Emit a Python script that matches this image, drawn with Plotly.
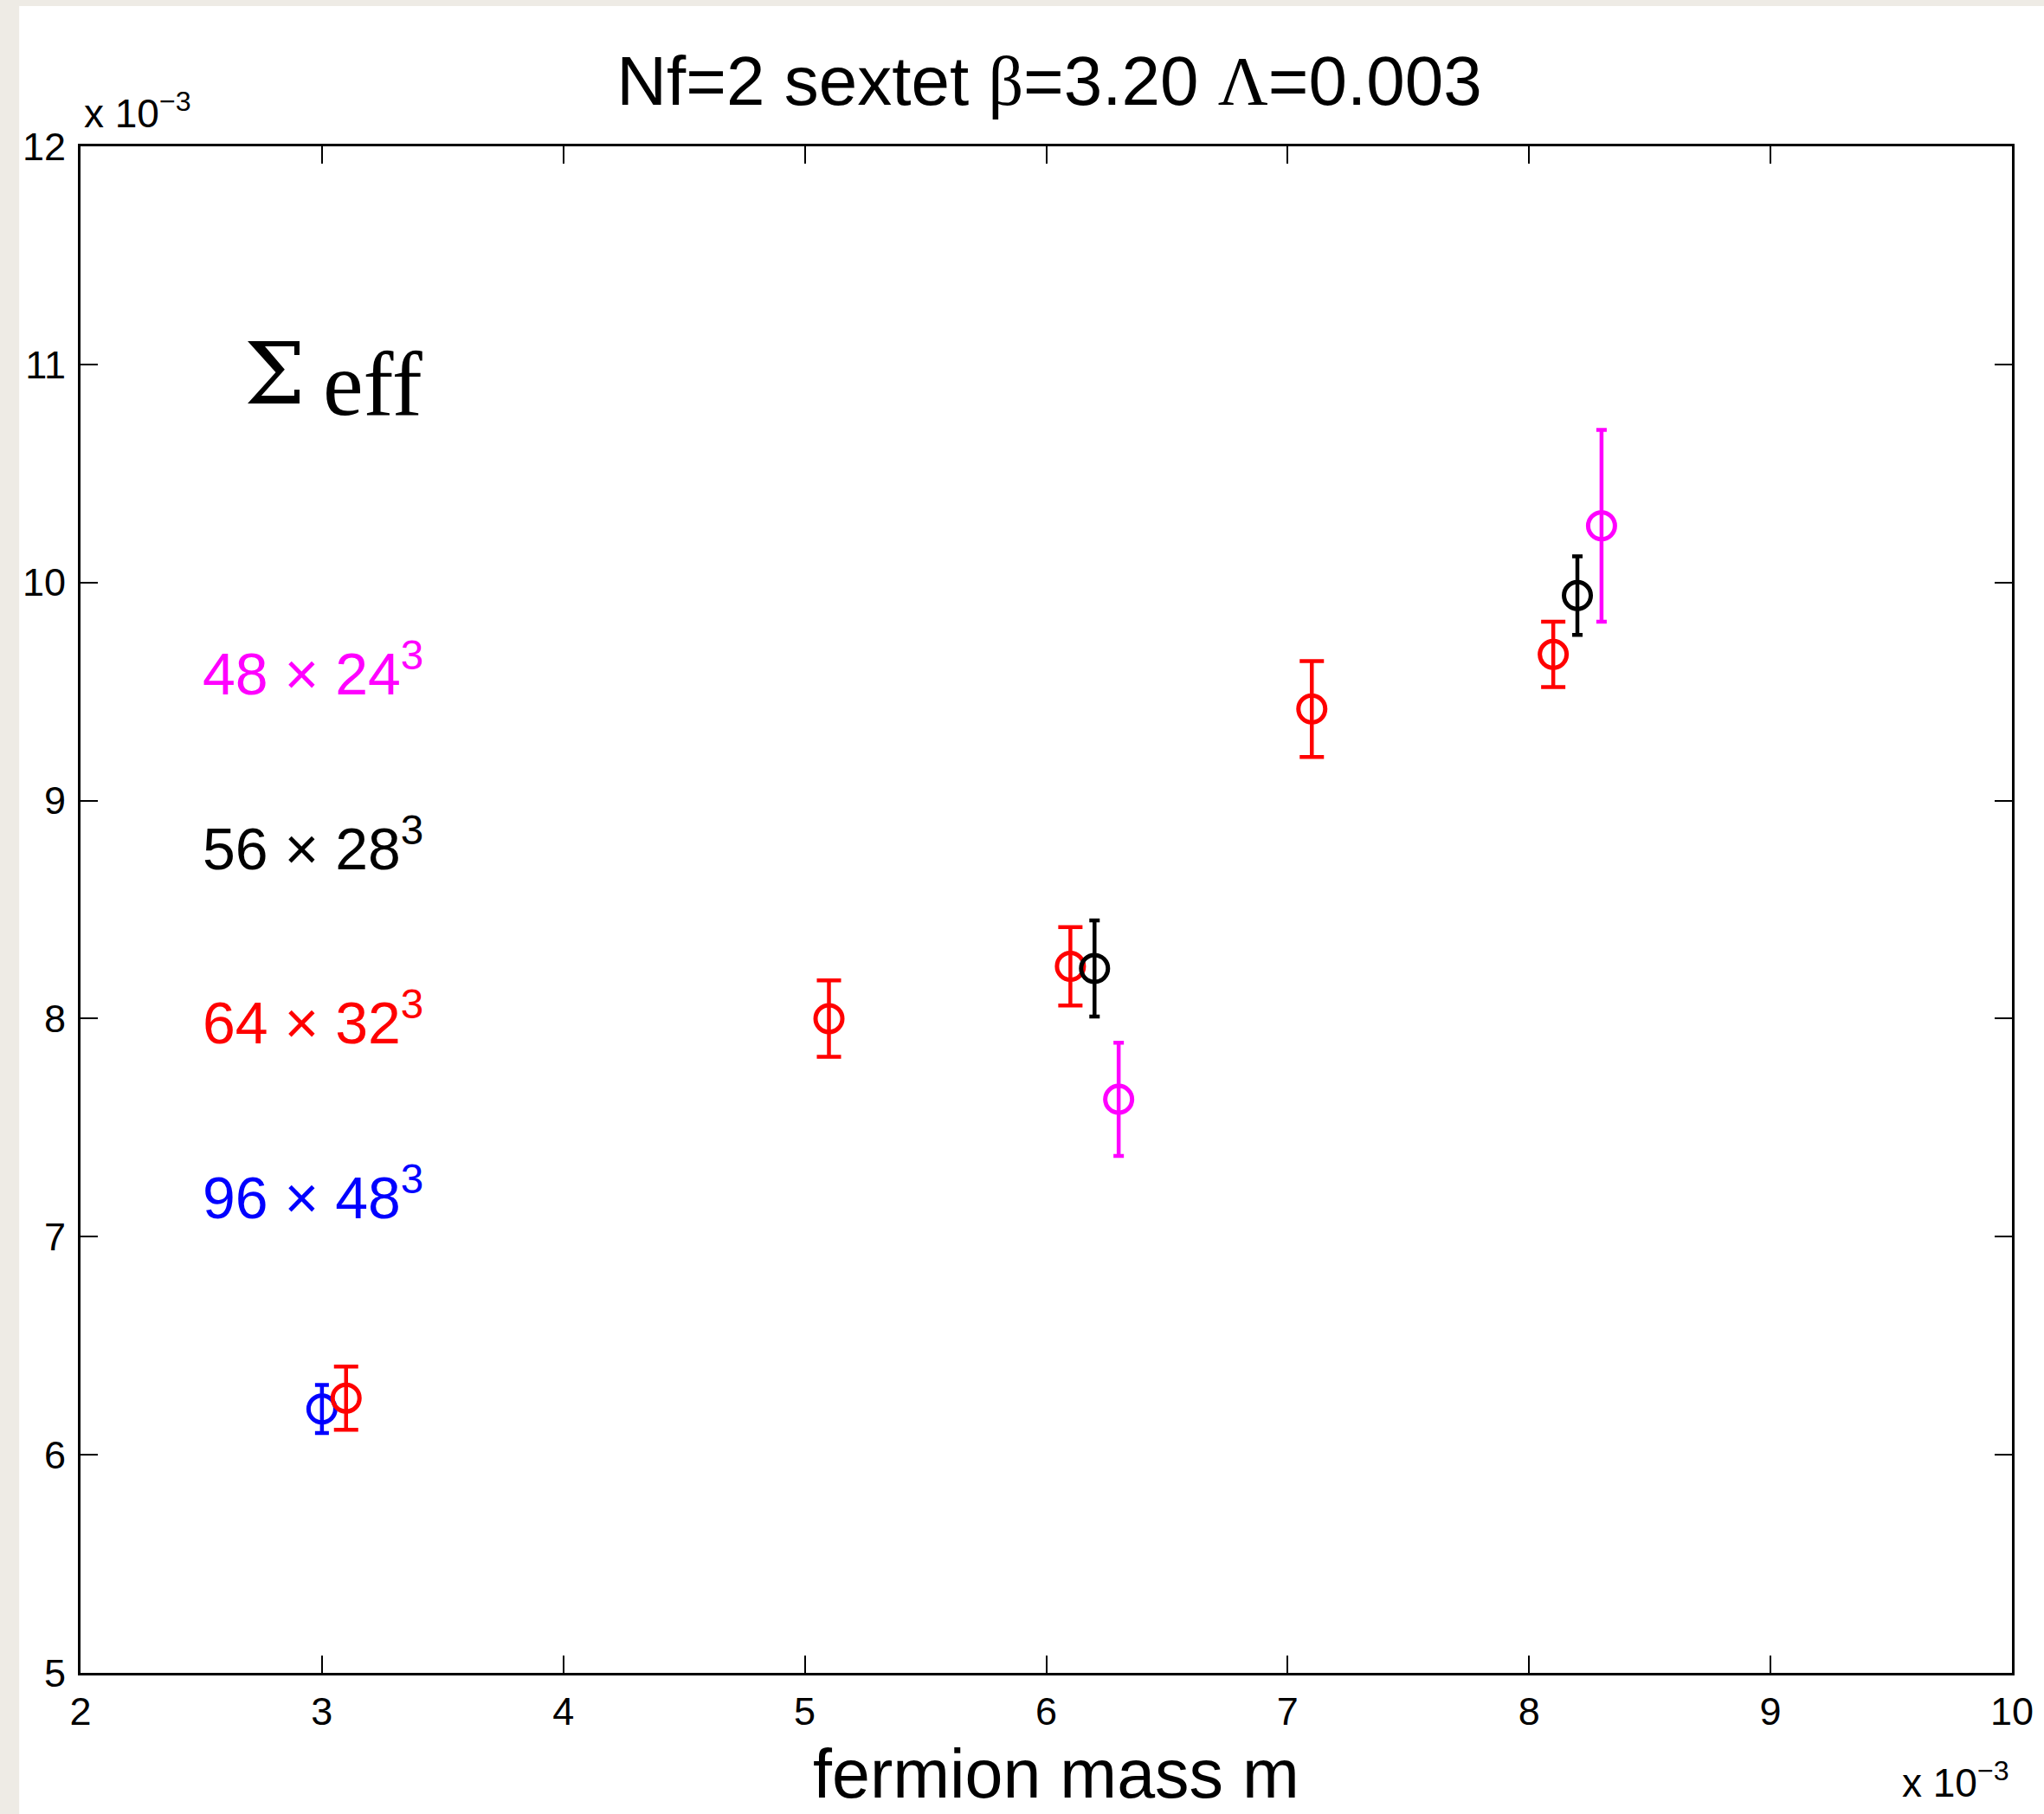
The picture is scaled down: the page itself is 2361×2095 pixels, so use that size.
import plotly.graph_objects as go

# ---- data (mass and Sigma_eff in units of 1e-3) ----
lat_96 = "96 × 48"
m_96 = [3.0]
s_96 = [6.21]
e_96 = [0.11]

lat_64 = "64 × 32"
m_64 = [3.1, 5.1, 6.1, 7.1, 8.1]
s_64 = [6.26, 8.00, 8.24, 9.42, 9.67]
e_64 = [0.145, 0.175, 0.18, 0.22, 0.15]

lat_56 = "56 × 28"
m_56 = [6.2, 8.2]
s_56 = [8.23, 9.94]
e_56 = [0.22, 0.18]

lat_48 = "48 × 24"
m_48 = [6.3, 8.3]
s_48 = [7.63, 10.26]
e_48 = [0.26, 0.44]

x_ticks = [2, 3, 4, 5, 6, 7, 8, 9, 10]
y_ticks = [5, 6, 7, 8, 9, 10, 11, 12]

W, H = 2361, 2095
ML, MR, MT, MB = 93, 32, 169, 163
PW, PH = W - ML - MR, H - MT - MB

SANS = "Liberation Sans, Arial, Helvetica, sans-serif"
SERIF = "Liberation Serif, Times New Roman, serif"

fig = go.Figure()

series = [
    (m_96, s_96, e_96, "blue", 8, lat_96),
    (m_64, s_64, e_64, "red", 14, lat_64),
    (m_56, s_56, e_56, "black", 6, lat_56),
    (m_48, s_48, e_48, "magenta", 6, lat_48),
]
for mx, sy, ey, col, cap, name in series:
    fig.add_trace(go.Scatter(
        x=mx, y=sy, mode="markers", name=name,
        marker=dict(symbol="circle-open", size=31, color=col, line=dict(width=5, color=col)),
        error_y=dict(type="data", array=ey, visible=True, color=col, thickness=4.5, width=cap),
        showlegend=False,
    ))

# lattice labels
labels = [(lat_48, "magenta", 9.6), (lat_56, "black", 8.8), (lat_64, "red", 8.0), (lat_96, "blue", 7.2)]
for txt, col, yy in labels:
    fig.add_annotation(x=2.5, y=yy, xref="x", yref="y", xanchor="left", yanchor="middle",
                       text=f"{txt}<sup>3</sup>", showarrow=False,
                       font=dict(family=SANS, size=68, color=col))

# Sigma_eff label (symbol and subscript drawn as two texts)
fig.add_annotation(x=2.675, y=10.958, xref="x", yref="y", xanchor="left", yanchor="middle",
                   text="Σ", showarrow=False, borderpad=0,
                   font=dict(family="DejaVu Serif, serif", size=100, color="black"))
fig.add_annotation(x=3.0, y=10.911, xref="x", yref="y", xanchor="left", yanchor="middle",
                   text="eff", showarrow=False, borderpad=0,
                   font=dict(family=SERIF, size=105, color="black"))

# exponent labels
fig.add_annotation(x=0.001, y=1 + (MT - 128) / PH, xref="paper", yref="paper",
                   xanchor="left", yanchor="middle", text="x 10<sup>−3</sup>", showarrow=False,
                   font=dict(family=SANS, size=46, color="black"))
fig.add_annotation(x=(2328 - ML) / PW, y=-(2056 - (H - MB)) / PH, xref="paper", yref="paper",
                   xanchor="right", yanchor="middle", text="x 10<sup>−3</sup>", showarrow=False,
                   font=dict(family=SANS, size=46, color="black"))

# x axis title
fig.add_annotation(x=(1223 - ML) / PW, y=-(2048 - (H - MB)) / PH, xref="paper", yref="paper",
                   xanchor="center", yanchor="middle", text="fermion mass m", showarrow=False,
                   font=dict(family=SANS, size=79, color="black"))

# white figure area over the textured page
fig.add_shape(type="rect", xref="paper", yref="paper", layer="below",
              x0=(22 - ML) / PW, x1=(W + 10 - ML) / PW,
              y0=-(MB + 10) / PH, y1=1 + (MT - 7) / PH,
              fillcolor="white", line=dict(width=0))

axis_common = dict(showline=True, linecolor="black", linewidth=3, mirror="allticks",
                   ticks="inside", ticklen=20, tickwidth=2, tickcolor="black",
                   showgrid=False, zeroline=False,
                   tickfont=dict(family=SANS, size=45, color="black"))

fig.update_xaxes(range=[2, 10], tickvals=x_ticks, ticktext=[str(v) for v in x_ticks],
                 ticklabelstandoff=3, **axis_common)
fig.update_yaxes(range=[5, 12], tickvals=y_ticks, ticktext=[str(v) for v in y_ticks],
                 ticklabelstandoff=5, **axis_common)

fig.update_layout(
    width=W, height=H,
    margin=dict(l=ML, r=MR, t=MT, b=MB, pad=0),
    paper_bgcolor="#EEEBE5", plot_bgcolor="white",
    title=dict(text="Nf=2 sextet <span style='font-family:Liberation Serif'>β</span>=3.20 "
                    "<span style='font-family:Liberation Serif'>Λ</span>=0.003",
               x=1212 / W, xanchor="center",
               y=1 - 93 / H, yanchor="middle",
               font=dict(family=SANS, size=80, color="black")),
)

fig.write_html("out.html")
